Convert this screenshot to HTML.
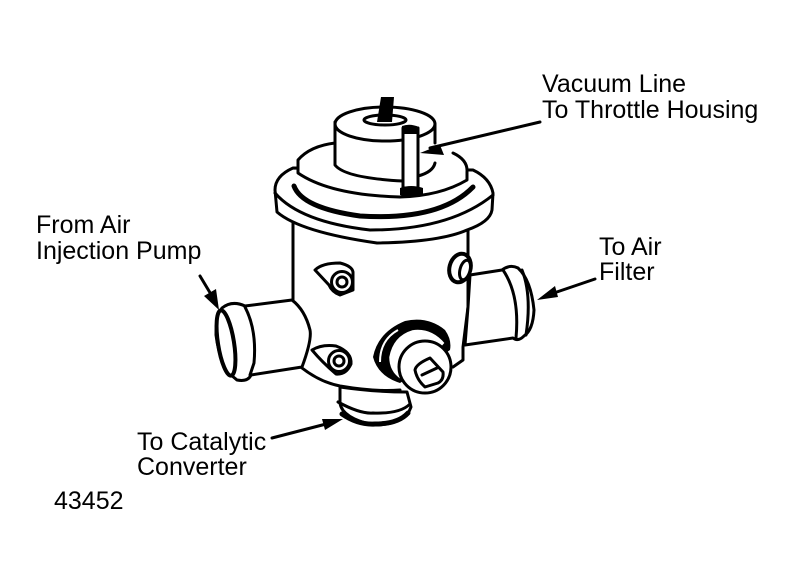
<!DOCTYPE html>
<html><head><meta charset="utf-8"><style>
html,body{margin:0;padding:0;background:#fff}
svg{display:block}
text{font-family:"Liberation Sans",sans-serif;font-size:25px;fill:#000}
.l{fill:none;stroke:#000;stroke-width:3;stroke-linecap:round;stroke-linejoin:round}
.t{fill:none;stroke:#000;stroke-width:5;stroke-linecap:round;stroke-linejoin:round}
.w{fill:#fff;stroke:#000;stroke-width:3;stroke-linejoin:round}
</style></head><body>
<svg width="794" height="584" viewBox="0 0 794 584" xmlns="http://www.w3.org/2000/svg">
<rect width="794" height="584" fill="#fff"/>
<!-- body -->
<path class="l" d="M293 220V300M468 222V307L463 347V360L453 367"/>
<path class="l" d="M302 368Q320 382 340 386Q375 392 400 390"/>
<!-- flange -->
<path class="w" d="M293 168Q275 176 275 190L277 212Q300 232 377 243Q440 242 467 230Q490 222 492 210L493 193Q490 178 473 170Z"/>
<path class="l" d="M275 193Q300 222 370 230Q450 230 493 195"/>
<path class="t" d="M294 186Q302 208 360 216Q440 221 473 187"/>
<!-- middle disc -->
<path d="M298 160Q310 146 336 142H440L453 153Q468 160 468 172V180Q440 196 400 197Q330 195 298 173Z" fill="#fff"/>
<path class="l" d="M335 143Q310 146 298 160V173Q330 195 400 197Q440 196 467 180V172Q468 160 453 153"/>
<!-- top cylinder -->
<path d="M335 122V165Q345 178 403 181L418 176Q433 170 435 165V122Z" fill="#fff"/>
<path class="l" d="M335 122V165Q345 178 403 181M418 176Q433 172 435 163M435 124V143"/>
<ellipse class="l" cx="385" cy="124" rx="50" ry="17"/>
<ellipse class="w" cx="385" cy="120" rx="21" ry="5"/>
<path d="M381 97H394L392 122H377Z" fill="#000"/>
<!-- tube -->
<path class="w" d="M403 128H418V188H403Z"/>
<path d="M402 126Q410 123 419 127V134H402Z" fill="#000"/>
<path d="M400 188Q411 184 423 188V195Q411 199 400 195Z" fill="#000"/>
<!-- left port -->
<path class="w" d="M292 300L245 306Q232 300 222 308Q216 316 216 335Q220 368 237 380Q248 382 251 375L302 367Q312 340 310 330Q305 310 292 300Z"/>
<path class="l" d="M245 307Q257 330 254 363L250 375"/>
<ellipse cx="226" cy="343" rx="8" ry="33" transform="rotate(-9 226 343)" fill="#fff" stroke="#000" stroke-width="4"/>
<!-- ears -->
<path class="w" d="M315 270Q322 263 340 263Q352 266 353 272V290L340 295Q332 292 329 285Z"/>
<circle cx="342" cy="282" r="10.5" class="w"/><circle cx="342" cy="282" r="5" class="w"/>
<path class="w" d="M312 350Q322 344 336 346Q352 352 351 364Q346 375 336 374Q322 362 312 350Z"/>
<circle cx="339" cy="361" r="10.5" class="w"/><circle cx="339" cy="361" r="5" class="w"/>
<!-- right port -->
<path class="w" d="M470 275L502 270Q510 264 518 268Q531 280 534 310Q533 330 524 336Q518 342 513 338L465 345L468 307Z"/>
<path class="l" d="M503 270Q520 295 516 338M522 270Q532 295 526 335"/>
<!-- plug -->
<ellipse cx="460" cy="268" rx="10.5" ry="14.5" transform="rotate(15 460 268)" fill="#fff" stroke="#000" stroke-width="4"/>
<ellipse cx="465" cy="270" rx="5" ry="10" transform="rotate(15 465 270)" fill="#fff" stroke="#000" stroke-width="3"/>
<!-- bottom port -->
<path class="w" d="M340 387V403Q342 418 373 425Q405 425 411 407L407 392Q375 392 340 387Z"/>
<path class="l" d="M338 402Q360 414 373 413Q400 414 410 404"/>
<path class="t" d="M342 414Q358 425 375 424Q398 424 408 413"/>
<!-- valve -->
<path d="M373 357Q378 332 405 321Q428 316 445 330Q452 340 450 350L425 367L400 383Q378 376 373 357Z" fill="#000"/>
<path d="M388 357Q392 335 412 329Q432 326 446 343L425 367L400 380Q388 372 388 357Z" fill="#fff" stroke="#000" stroke-width="2.5"/>
<path d="M380 362Q380 340 398 330" fill="none" stroke="#fff" stroke-width="2"/>
<circle cx="425" cy="367" r="26" class="w"/>
<path class="w" d="M415 370Q416 364 430 358L443 372Q444 380 438 383L425 387Q417 380 415 370Z"/>
<path class="l" d="M422 375L437 368"/>
<!-- arrows -->
<path class="l" d="M540 122L430 148M200 276L212 296M595 279L548 295M272 438L330 423"/>
<path d="M420 153L440 145L444 155ZM219 310L204 296L216 289ZM537 300L555 286L558 297ZM343 419L322 419L325 430Z" fill="#000"/>
<!-- labels -->
<text x="542" y="92">Vacuum Line</text>
<text x="542" y="118">To Throttle Housing</text>
<text x="36" y="233">From Air</text>
<text x="36" y="259">Injection Pump</text>
<text x="599" y="255">To Air</text>
<text x="599" y="280">Filter</text>
<text x="137" y="450">To Catalytic</text>
<text x="137" y="475">Converter</text>
<text x="54" y="509">43452</text>
</svg>
</body></html>
